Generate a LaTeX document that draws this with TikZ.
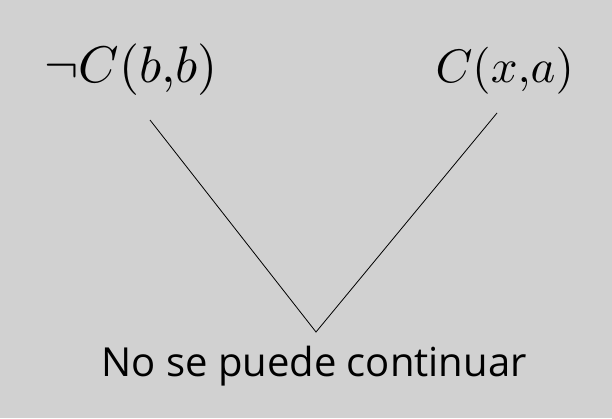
\documentclass[tikz,border=0pt]{standalone}
\usepackage{fontspec}
\newfontfamily\labelsans{Open Sans}
\definecolor{bggray}{RGB}{209,209,209}
\begin{document}
\begin{tikzpicture}[x=1pt,y=-1pt,
  mathlabel/.style={inner sep=0pt},
  textlabel/.style={inner sep=0pt, font=\labelsans\fontsize{40}{48}\selectfont},
  edge/.style={draw=black, line width=0.8pt}]
\fill[bggray] (0,0) rectangle (612,418);
\useasboundingbox (0,0) rectangle (612,418);
\node[mathlabel, anchor=base west] (L) at (44,82) {\scalebox{5.15}{$\neg C(b{,}b)$}};
\node[mathlabel, anchor=base east] (R) at (574,82) {\scalebox{4.7}{$C(x{,}a)$}};
\node[textlabel, anchor=base] (B) at (314,376) {No se puede continuar};
\coordinate (l1) at (150,120);
\coordinate (r1) at (497,113);
\coordinate (v) at (316,332);
\draw[edge] (l1) -- (v) -- (r1);
\end{tikzpicture}
\end{document}
